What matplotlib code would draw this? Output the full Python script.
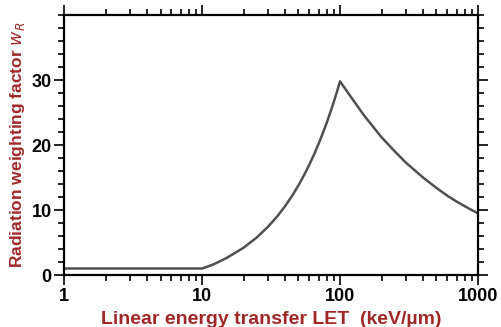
import matplotlib.pyplot as plt
from matplotlib.ticker import FixedLocator, NullFormatter

# LET (keV/um) and radiation weighting factor
let_values = [1, 10, 12, 15, 20, 25, 30, 35, 40, 45, 50, 55, 60, 65, 70,
              75, 80, 85, 90, 95, 100, 120, 150, 200, 250, 300, 400, 500,
              600, 700, 800, 900, 1000]
w_r = [1.0, 1.0, 1.6, 2.6, 4.2, 5.8, 7.4, 9.0, 10.6, 12.2, 13.8, 15.4, 17.0,
       18.6, 20.2, 21.8, 23.4, 25.0, 26.6, 28.2, 29.8, 27.4, 24.5, 21.2,
       19.0, 17.3, 15.0, 13.4, 12.2, 11.3, 10.6, 10.0, 9.5]

x_ticks = [1, 10, 100, 1000]
x_ticklabels = ["1", "10", "100", "1000"]
y_ticks = [0, 10, 20, 30]

label_red = "#a02828"
plt.rcParams["font.family"] = ["Liberation Sans", "DejaVu Sans"]

fig = plt.figure(figsize=(5.01, 3.27), dpi=100)
ax = fig.add_axes([0.128, 0.159, 0.826, 0.795])

ax.plot(let_values, w_r, color="#505050", lw=1.8)

ax.set_xscale("log")
ax.set_xlim(1, 1000)
ax.set_ylim(0, 40)

ax.set_xticks(x_ticks)
ax.set_xticklabels(x_ticklabels)
ax.xaxis.set_minor_locator(FixedLocator(
    [m * d for d in (1, 10, 100) for m in range(2, 10)]))
ax.xaxis.set_minor_formatter(NullFormatter())
ax.set_yticks(y_ticks)
ax.yaxis.set_minor_locator(FixedLocator(range(0, 41, 2)))

ax.tick_params(which="both", direction="out", top=True, right=True,
               width=1.2, labelsize=13, pad=2)
ax.tick_params(which="major", length=7)
ax.tick_params(which="minor", length=4)
for lab in ax.get_xticklabels() + ax.get_yticklabels():
    lab.set_fontweight("bold")

for sp in ax.spines.values():
    sp.set_linewidth(1.6)

ax.set_xlabel("Linear energy transfer LET  (keV/\u00b5m)", color=label_red,
              fontsize=14, fontweight="bold", labelpad=5)
ax.set_ylabel("Radiation weighting factor $w_R$", color=label_red,
              fontsize=12.5, fontweight="bold", labelpad=3)

fig.savefig("out.png", dpi=100)
